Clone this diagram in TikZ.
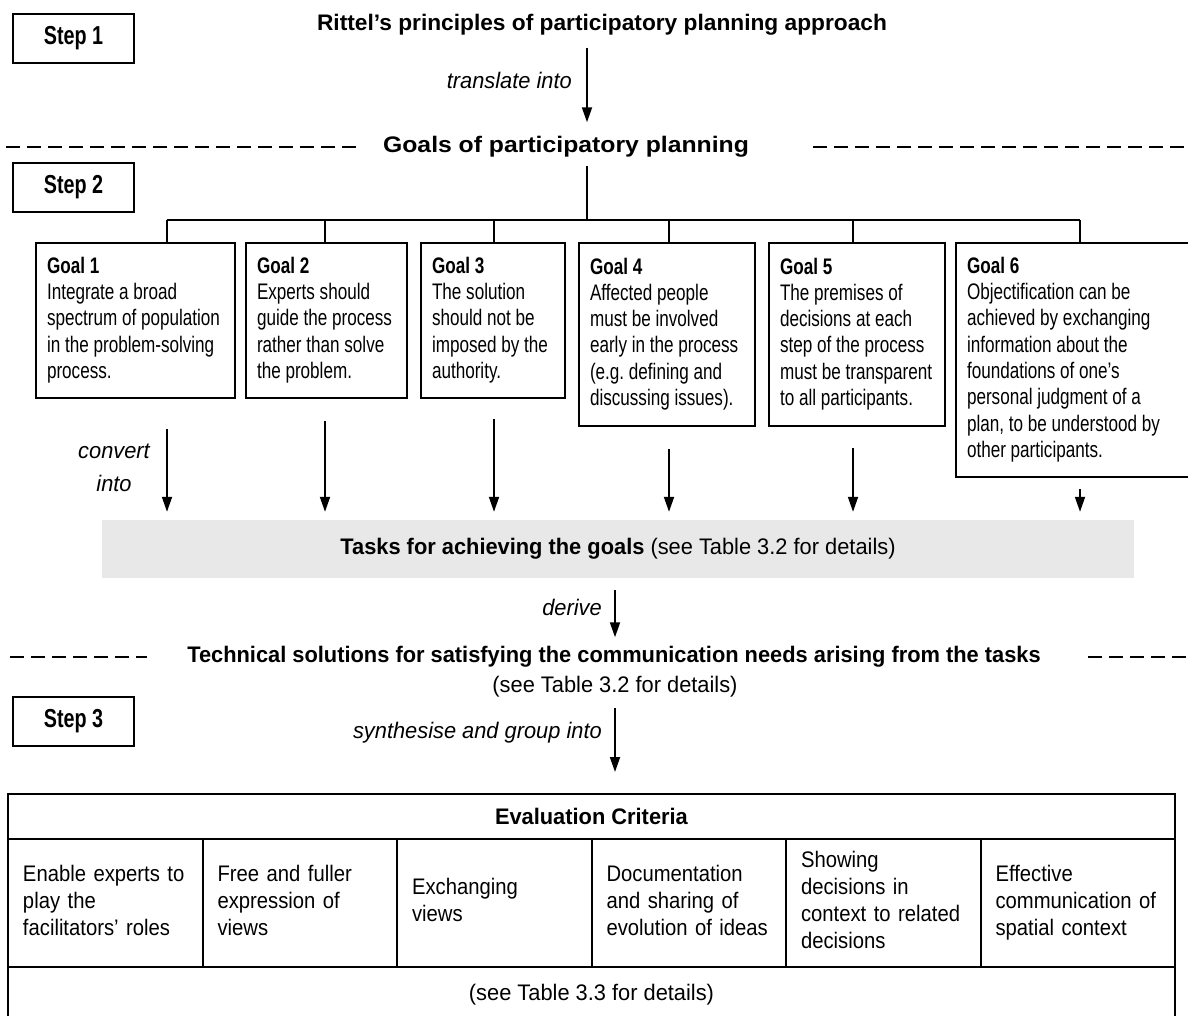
\documentclass[tikz,border=0pt]{standalone}
\usepackage{fontspec}
\setmainfont{Liberation Sans}[FakeStretch=0.97]
\newfontfamily\titlefont{Liberation Sans}[FakeStretch=1.01]
\newfontfamily\widefont{Liberation Sans}[FakeStretch=1.1]
\newfontfamily\goalfont{Liberation Sans}[FakeStretch=0.76]
\newfontfamily\cellfont{Liberation Sans}[FakeStretch=0.9]
\usetikzlibrary{arrows.meta}
\definecolor{taskgray}{HTML}{E8E8E8}
\newcommand\szmain{\fontsize{22.5}{26.3}\selectfont}
% a block of fixed lines, set flush left, never rewrapped
\newcommand\fixedlines[1]{\begin{tabular}{@{}l@{}}#1\end{tabular}}
% the same, with the tighter word spacing of the condensed goal text
\newcommand\goallines[1]{{\spaceskip=4.75pt plus 2pt minus 1pt\relax
  \begin{tabular}{@{}l@{}}#1\end{tabular}}}

\tikzset{
  stepbox/.style={draw, line width=2pt, minimum width=121pt, minimum height=49pt,
    inner sep=0pt, font=\goalfont\bfseries\fontsize{26}{30}\selectfont},
  headline/.style={inner sep=0pt, font=\bfseries\szmain},
  note/.style={inner sep=0pt, font=\szmain},
  verb/.style={inner sep=0pt, font=\itshape\szmain},
  goalbox/.style={draw, line width=2pt, anchor=north west, align=left,
    inner xsep=11pt, inner ysep=0pt, text width=#1,
    font=\goalfont\fontsize{22.5}{26.3}\selectfont},
  taskbox/.style={fill=taskgray, minimum width=1032pt, minimum height=58pt,
    inner sep=0pt, font=\szmain},
  cell/.style={draw, line width=2pt, minimum width=194.5pt, minimum height=128pt,
    align=left, text width=164.5pt, inner xsep=15pt, inner ysep=0pt,
    font=\cellfont\fontsize{22.5}{27}\selectfont},
  row/.style={draw, line width=2pt, minimum width=1167pt, inner sep=0pt,
    font=\szmain},
  flow/.style={-{Triangle[length=15pt,width=10pt]}, line width=1.8pt},
  wire/.style={line width=1.8pt},
  divider/.style={line width=1.6pt, dash pattern=on 14pt off 7pt},
}

\begin{document}
\begin{tikzpicture}[x=1pt,y=-1pt]
\useasboundingbox (0,0) rectangle (1188,1015);
\fill[white] (0,0) rectangle (1188,1015);
\clip (0,0) rectangle (1188,1015);

% step labels
\node[stepbox] (step1) at (73.5,38.5) {Step 1};
\node[stepbox] (step2) at (73.5,187.5) {Step 2};
\node[stepbox] (step3) at (73.5,721.5) {Step 3};

% step 1: principles translated into goals
\node[headline, font=\titlefont\bfseries\szmain] (rittel) at (602,25)
  {Rittel’s principles of participatory planning approach};
\node[headline, font=\widefont\bfseries\szmain] (goals) at (566,147)
  {Goals of participatory planning};
\node[verb, anchor=east] (translate) at (572,80) {translate into};
\draw[flow] ([xshift=-15pt,yshift=-12pt]rittel.south) -- ([xshift=21pt,yshift=14pt]goals.north);

\draw[divider] (goals.west) ++(-377,0) -- ++(356,0);
\draw[divider] (goals.east) ++(64,0) -- ++(390,0);

% the six goals
\node[goalbox=177pt, minimum height=155pt] (g1) at (35,242)
  {\goallines{\textbf{Goal 1}\\Integrate a broad\\spectrum of population\\in the problem-solving\\process.}};
\node[goalbox=139pt, minimum height=155pt] (g2) at (245,242)
  {\goallines{\textbf{Goal 2}\\Experts should\\guide the process\\rather than solve\\the problem.}};
\node[goalbox=122pt, minimum height=155pt] (g3) at (420,242)
  {\goallines{\textbf{Goal 3}\\The solution\\should not be\\imposed by the\\authority.}};
\node[goalbox=154pt, minimum height=183pt] (g4) at (578,242)
  {\goallines{\textbf{Goal 4}\\Affected people\\must be involved\\early in the process\\(e.g.\ defining and\\discussing issues).}};
\node[goalbox=154pt, minimum height=183pt] (g5) at (768,242)
  {\goallines{\textbf{Goal 5}\\The premises of\\decisions at each\\step of the process\\must be transparent\\to all participants.}};
\node[goalbox=218pt, minimum height=234pt] (g6) at (955,242)
  {\goallines{\textbf{Goal 6}\\Objectification can be\\achieved by exchanging\\information about the\\foundations of one’s\\personal judgment of a\\plan, to be understood by\\other participants.}};

% tree from the goals heading to each goal
\coordinate (bus1) at (167,220);
\coordinate (bus2) at (325,220);
\coordinate (bus3) at (494,220);
\coordinate (bus4) at (669,220);
\coordinate (bus5) at (853,220);
\coordinate (bus6) at (1080,220);
\coordinate (stem) at ([xshift=21pt,yshift=-8pt]goals.south);
\draw[wire] (stem) -- (stem |- bus1);
\draw[wire] (bus1) -- (bus6);
\foreach \i in {1,...,6} \draw[wire] (bus\i) -- (bus\i |- g\i.north);

% tasks
\node[taskbox] (tasks) at (618,549)
  {\textbf{Tasks for achieving the goals} (see Table 3.2 for details)};
\node[verb, align=center, font=\itshape\fontsize{22.5}{33}\selectfont] (convert) at (114,468) {convert\\into};

\draw[flow, shorten >=8pt] (bus1 |- g1.south) ++(0,30) -- (bus1 |- tasks.north);
\draw[flow, shorten >=8pt] (bus2 |- g2.south) ++(0,22) -- (bus2 |- tasks.north);
\draw[flow, shorten >=8pt] (bus3 |- g3.south) ++(0,20) -- (bus3 |- tasks.north);
\draw[flow, shorten >=8pt] (bus4 |- g4.south) ++(0,22) -- (bus4 |- tasks.north);
\draw[flow, shorten >=8pt] (bus5 |- g5.south) ++(0,21) -- (bus5 |- tasks.north);
\draw[flow, shorten >=8pt] (bus6 |- g6.south) ++(0,11) -- (bus6 |- tasks.north);

% technical solutions
\node[verb, anchor=east] (derive) at (602,607) {derive};
\node[headline] (tech) at (614,657)
  {Technical solutions for satisfying the communication needs arising from the tasks};
\node[note] (techref) at (615,687) {(see Table 3.2 for details)};
\draw[flow, shorten >=9pt] ([xshift=-3pt]tasks.south) ++(0,12) -- ([xshift=1pt]tech.north);
\draw[divider] (tech.west) ++(-177,0) -- ++(137,0);
\draw[divider] (tech.east) ++(47,0) -- ++(120,0);

% step 3: evaluation criteria
\node[verb, anchor=east] (synth) at (602,733) {synthesise and group into};
\node[row, minimum height=45pt] (evalhead) at (591.5,816.5) {\textbf{Evaluation Criteria}};
\draw[flow, shorten >=21pt] (techref.south) ++(0,10) -- (techref.south |- evalhead.north);

\node[cell] (c1) at (105.25,903) {\fixedlines{Enable experts to\\play the\\facilitators’ roles}};
\node[cell] (c2) at (299.75,903) {\fixedlines{Free and fuller\\expression of\\views}};
\node[cell] (c3) at (494.25,903) {\fixedlines{Exchanging\\views}};
\node[cell] (c4) at (688.75,903) {\fixedlines{Documentation\\and sharing of\\evolution of ideas}};
\node[cell] (c5) at (883.25,903) {\fixedlines{Showing\\decisions in\\context to related\\decisions}};
\node[cell] (c6) at (1077.75,903) {\fixedlines{Effective\\communication of\\spatial context}};

\node[row, minimum height=56pt] (evalfoot) at (591.5,995) {(see Table 3.3 for details)};
\end{tikzpicture}
\end{document}
